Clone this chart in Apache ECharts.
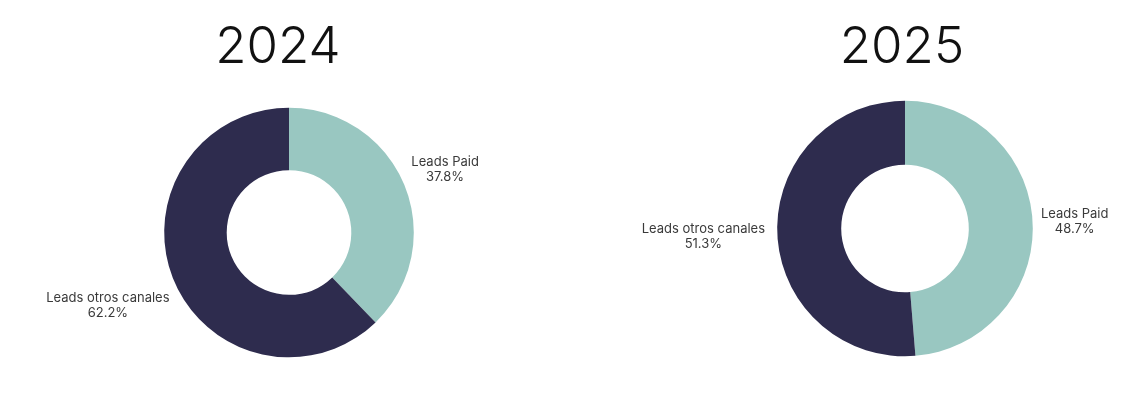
<!DOCTYPE html>
<html>
<head>
<meta charset="utf-8">
<script src="https://cdn.jsdelivr.net/npm/echarts@6/dist/echarts.min.js"></script>
<style>
  html, body { margin: 0; padding: 0; background: #ffffff; }
  #chart { width: 1140px; height: 412px; }
</style>
</head>
<body>
<div id="chart"></div>
<script>
// ---- data ----
const years = ['2024', '2025'];
const categories = ['Leads Paid', 'Leads otros canales'];
const values2024 = [37.8, 62.2];
const values2025 = [48.7, 51.3];
const seriesValues = [values2024, values2025];

// ---- layout / style (not data) ----
const colors = ['#99C7C1', '#2E2C4E'];
const pieCenters = [[289, 232.5], [905, 228.5]];
const pieRadii = [[62.3, 124.8], [63.8, 127.8]];
const titleX = [278, 902];
const labelGaps = [[43.5, 70.5], [42, 74]];

const chart = echarts.init(document.getElementById('chart'), null, { renderer: 'canvas' });

const titles = years.map((y, i) => ({
  text: y,
  left: titleX[i],
  top: 22,
  padding: 0,
  textAlign: 'center',
  textStyle: {
    fontFamily: 'Inter',
    fontSize: 51,
    fontWeight: 300,
    color: '#111111'
  }
}));

const series = seriesValues.map((vals, si) => ({
  type: 'pie',
  center: pieCenters[si],
  radius: pieRadii[si],
  startAngle: 90,
  clockwise: true,
  avoidLabelOverlap: false,
  silent: true,
  data: categories.map((name, ci) => ({
    name: name,
    value: vals[ci],
    itemStyle: { color: colors[ci] },
    labelLine: { show: false, length: labelGaps[si][ci], length2: 0 }
  })),
  label: {
    show: true,
    position: 'outside',
    distanceToLabelLine: 0,
    width: 180,
    formatter: '{t|{b}}\n{t|{c}%}',
    rich: {
      t: {
        align: 'center',
        fontFamily: 'Inter',
        fontSize: 13,
        lineHeight: 15,
        color: '#3a3a3a'
      }
    }
  },
  labelLine: { show: false },
  labelLayout: function () {
    return { align: 'center', verticalAlign: 'middle' };
  }
}));

chart.setOption({
  backgroundColor: '#ffffff',
  animation: false,
  title: titles,
  series: series
});
</script>
</body>
</html>
